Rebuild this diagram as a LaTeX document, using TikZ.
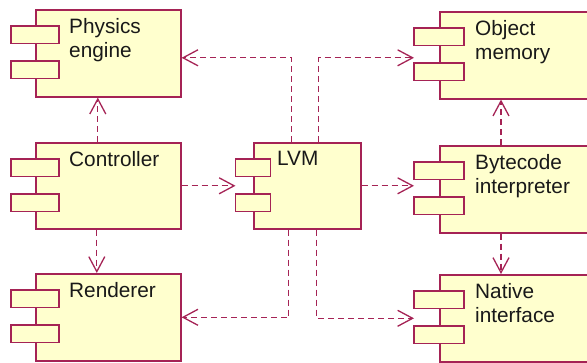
\documentclass[tikz,border=0pt]{standalone}
\usepackage{fontspec}
\setmainfont{Liberation Sans}
\usetikzlibrary{arrows.meta}

\definecolor{umlborder}{RGB}{165,35,85}
\definecolor{umlfill}{RGB}{255,255,206}
\definecolor{umltext}{RGB}{25,25,25}

% two small port boxes across the left edge, and the pin where arrows end
\newcommand{\compports}[2]{%
  \draw[port] ([xshift=-#2,yshift=-17pt]#1.north west) rectangle ([xshift=#2,yshift=-34.5pt]#1.north west);
  \draw[port] ([xshift=-#2,yshift=-52pt]#1.north west) rectangle ([xshift=#2,yshift=-69.5pt]#1.north west);
  \coordinate (#1-pin) at ([xshift=-#2]#1.west);}

\begin{document}
\begin{tikzpicture}[x=1pt,y=-1pt]
	\tikzset{
		comp/.style={draw=umlborder,line width=1.6pt,fill=umlfill,minimum width=145pt,minimum height=87pt,anchor=north west,inner sep=0pt},
		port/.style={draw=umlborder,line width=1.4pt,fill=umlfill},
		comptext/.style={anchor=north west,inner sep=0pt,align=left,text=umltext,font=\fontsize{20.8}{24}\selectfont},
		dep/.style={draw=umlborder,line width=1.3pt,dash pattern=on 6pt off 4pt,-{Straight Barb[length=15pt,width=16pt]}}
	}
	\useasboundingbox (0,0) rectangle (587,363);
	\clip (0,0) rectangle (587,363);
	
	% left column
	\node[comp] (phys) at (35,9) {};
	\node[comp,minimum height=86pt] (ctrl) at (35,142) {};
	\node[comp] (rend) at (35,273) {};
	% middle
	\node[comp,minimum width=107pt,minimum height=86pt] (lvm) at (253,142) {};
	% right column, cut off by the border
	\node[comp,minimum width=200pt] (objmem) at (439,11) {};
	\node[comp,minimum width=200pt] (bytecode) at (439,145) {};
	\node[comp,minimum width=200pt] (native) at (439,274) {};
	
	\compports{phys}{24pt}
	\compports{ctrl}{24pt}
	\compports{rend}{24pt}
	\compports{lvm}{17.5pt}
	\compports{objmem}{25pt}
	\compports{bytecode}{25pt}
	\compports{native}{25pt}
	
	\node[comptext] (phys-txt) at ([xshift=34pt,yshift=-9pt]phys.north west) {Physics\\engine};
	\node[comptext] (ctrl-txt) at ([xshift=34pt,yshift=-9pt]ctrl.north west) {Controller};
	\node[comptext] (rend-txt) at ([xshift=34pt,yshift=-9pt]rend.north west) {Renderer};
	\node[comptext] (lvm-txt) at ([xshift=24pt,yshift=-9pt]lvm.north west) {LVM};
	\node[comptext] (objmem-txt) at ([xshift=36pt,yshift=-9pt]objmem.north west) {Object\\memory};
	\node[comptext] (bytecode-txt) at ([xshift=36pt,yshift=-9pt]bytecode.north west) {Bytecode\\interpreter};
	\node[comptext] (native-txt) at ([xshift=36pt,yshift=-9pt]native.north west) {Native\\interface};
	
	% dependencies
	\draw[dep] ([xshift=-15.5pt]lvm.north) |- ([yshift=-4.5pt]phys.east);
	\draw[dep] ([xshift=11.5pt]lvm.north) |- ([yshift=-2.5pt]objmem-pin);
	\draw[dep] ([xshift=-10.5pt]ctrl.north) -- ([xshift=-10.5pt]phys.south);
	\draw[dep] ([xshift=-11.5pt]ctrl.south) -- ([xshift=-11.5pt]rend.north);
	\draw[dep] (ctrl.east) -- (lvm-pin);
	\draw[dep] (lvm.east) -- (lvm.east -| bytecode-pin);
	\draw[dep] ([xshift=62pt]bytecode.north west) -- ([xshift=62pt]objmem.south west);
	\draw[dep] ([xshift=62pt]bytecode.south west) -- ([xshift=62pt]native.north west);
	\draw[dep] ([xshift=-18.5pt]lvm.south) |- (rend.east);
	\draw[dep] ([xshift=9.5pt]lvm.south) |- (native-pin);
	
\end{tikzpicture}
\end{document}
